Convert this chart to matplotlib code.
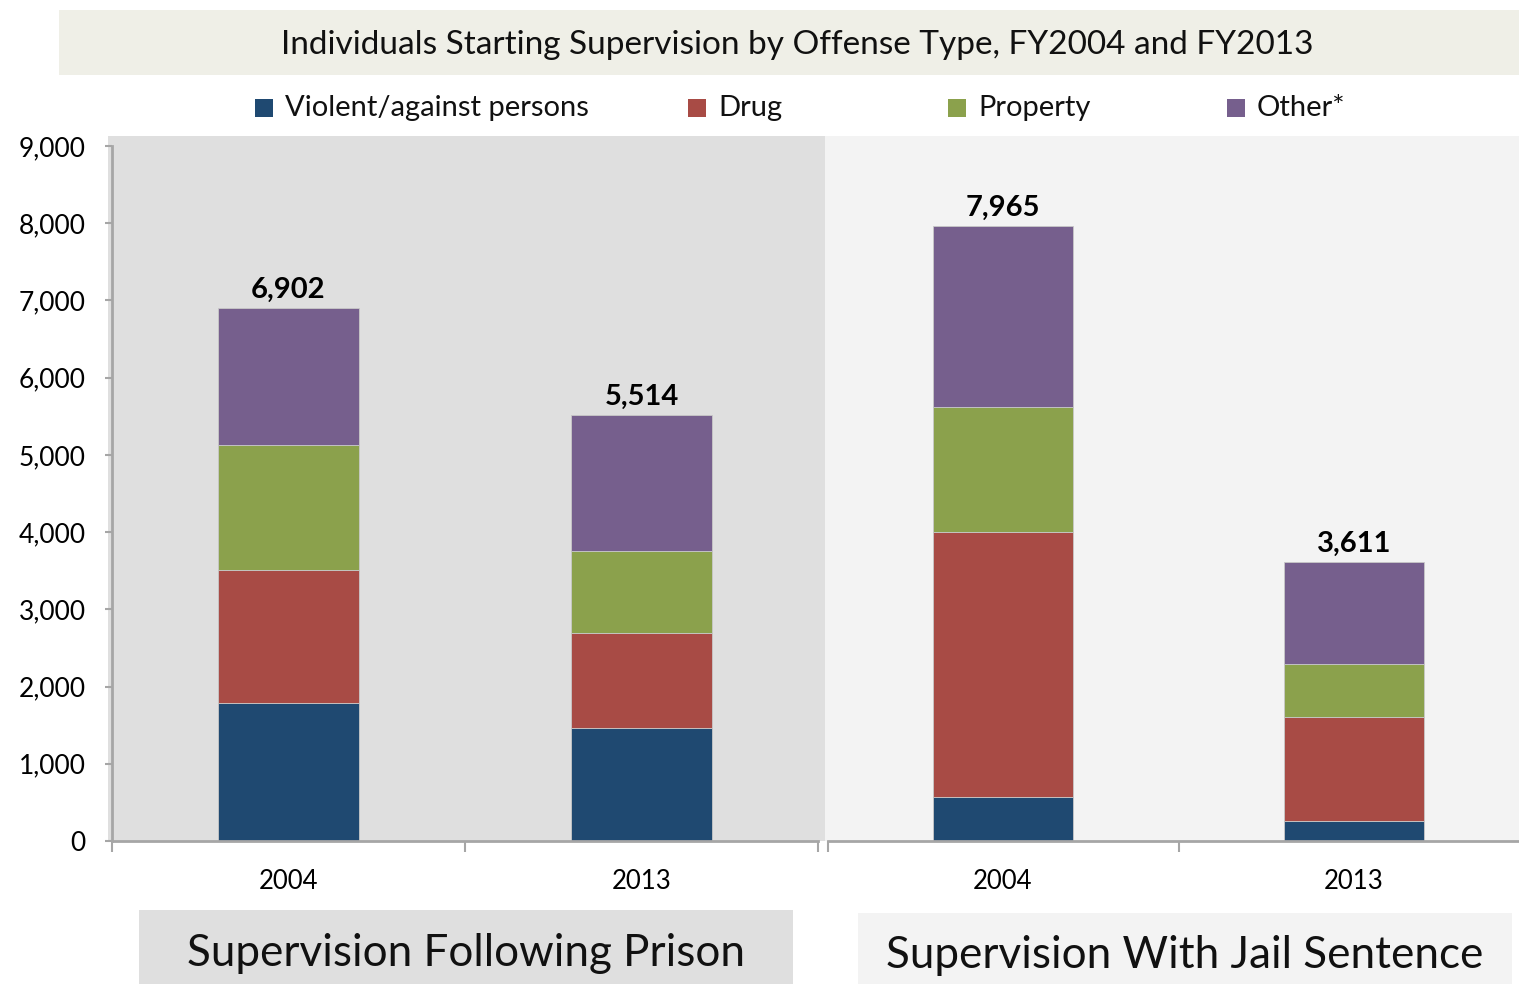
import matplotlib
matplotlib.use("Agg")
import matplotlib.pyplot as plt
import numpy as np
from matplotlib.patches import Rectangle

plt.rcParams['font.family'] = ['Lato', 'DejaVu Sans']

# data
years = ['2004', '2013']
panels = ['Supervision Following Prison', 'Supervision With Jail Sentence']
categories = ['Violent/against persons', 'Drug', 'Property', 'Other*']
colors = ['#1f4971', '#a84b45', '#8ba14c', '#765f8d']

prison_violent = [1790, 1460]
prison_drug = [1720, 1230]
prison_property = [1620, 1070]
prison_other = [1772, 1754]
prison_total = [6902, 5514]

jail_violent = [570, 260]
jail_drug = [3430, 1350]
jail_property = [1620, 680]
jail_other = [2345, 1321]
jail_total = [7965, 3611]

W, H = 1519, 984
fig = plt.figure(figsize=(W / 100, H / 100), dpi=100)


def fx(px):
    return px / W


def fy(py):
    return 1 - py / H


def box(x0, y0, x1, y1, col):
    # rectangle in pixel coords (top-left origin), drawn behind the axes
    fig.patches.append(Rectangle((fx(x0), fy(y1)), fx(x1 - x0), fy(y0) - fy(y1),
                                 transform=fig.transFigure, facecolor=col,
                                 edgecolor='none', zorder=-10))


# panel backgrounds
box(108, 136, 825, 841, '#dfdfdf')
box(825, 136, 1525, 841, '#f3f3f3')

# title box
box(59, 10, 1519, 75, '#efefe7')
fig.text(fx(797), fy(45), 'Individuals Starting Supervision by Offense Type, FY2004 and FY2013',
         ha='center', va='center', fontsize=24, color='#111111')

# bottom label boxes
box(139, 910, 793, 990, '#dfdfdf')
box(858, 913, 1512, 990, '#f3f3f3')
fig.text(fx(466), fy(953), panels[0], ha='center', va='center', fontsize=31.7, color='#111111')
fig.text(fx(1185), fy(956), panels[1], ha='center', va='center', fontsize=31.7, color='#111111')

ax1 = fig.add_axes([fx(112), fy(841), fx(706), fy(146) - fy(841)])
ax2 = fig.add_axes([fx(827.5), fy(841), fx(702), fy(146) - fy(841)])

x = np.arange(len(years))
width = 0.4
grid_col = '#a6a6a6'

for ax, series, totals in [
        (ax1, [prison_violent, prison_drug, prison_property, prison_other], prison_total),
        (ax2, [jail_violent, jail_drug, jail_property, jail_other], jail_total)]:
    ax.set_facecolor('none')
    bottom = np.zeros(len(years))
    for vals, col, name in zip(series, colors, categories):
        ax.bar(x, vals, width, bottom=bottom, color=col, edgecolor='#c8c8c8',
               linewidth=0.6, label=name, zorder=2)
        bottom += np.array(vals)
    for xi, t, b in zip(x, totals, bottom):
        ax.annotate(f'{t:,}', (xi, b), xytext=(0, 3.5), textcoords='offset points',
                    ha='center', va='bottom', fontsize=21, fontweight='bold')
    ax.set_xlim(-0.5, 1.5)
    ax.set_ylim(0, 9000)
    ax.set_xticks(x)
    ax.set_xticklabels(years, fontsize=18.5)
    ax.set_xticks([-0.5, 0.5, 1.5], minor=True)
    ax.tick_params(axis='x', which='major', length=0, pad=20.5)
    ax.tick_params(axis='x', which='minor', length=8, width=1.5, color=grid_col)
    for s in ['top', 'right']:
        ax.spines[s].set_visible(False)
    ax.spines['bottom'].set_color(grid_col)
    ax.spines['bottom'].set_linewidth(2)

ax1.set_yticks(np.arange(0, 9001, 1000))
ax1.set_yticklabels([f'{v:,}' for v in range(0, 9001, 1000)], fontsize=19)
ax1.tick_params(axis='y', length=5, width=1.5, color=grid_col, pad=14)
ax1.spines['left'].set_color(grid_col)
ax1.spines['left'].set_linewidth(2)

ax2.set_yticks([])
ax2.spines['left'].set_visible(False)

# legend
leg_x = [255, 688, 948, 1227]
for col, lab, lx in zip(colors, categories, leg_x):
    box(lx, 99, lx + 18, 117, col)
    fig.text(fx(lx + 30), fy(108), lab, ha='left', va='center', fontsize=21, color='#111111')

fig.savefig('out.png', dpi=100)
